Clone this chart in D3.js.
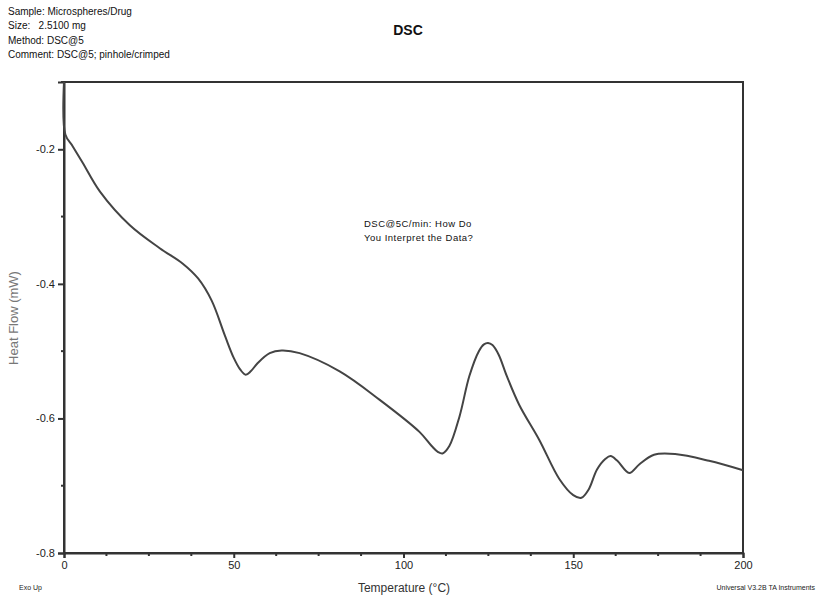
<!DOCTYPE html>
<html><head><meta charset="utf-8">
<script src="https://cdn.jsdelivr.net/npm/d3@7"></script>
<style>body{margin:0;background:#fff}svg{display:block;font-family:"Liberation Sans",Arial,sans-serif}</style>
</head><body>
<svg id="c" width="817" height="597"></svg>
<script>
const temperature = [0.0,0.4,2.5,5.5,10.6,19.4,28.2,35.0,39.5,43.5,47.4,50.0,52.0,53.5,55.0,57.0,60.6,64.1,69.4,81.2,92.9,104.7,108.3,110.2,111.5,113.5,116.5,119.4,122.2,123.7,124.9,126.2,128.0,130.5,134.1,140.0,145.9,150.0,152.4,154.5,157.0,159.5,161.0,163.0,166.5,169.5,173.8,180.0,190.0,200.0];
const heatFlow = [-0.10,-0.178,-0.195,-0.220,-0.263,-0.313,-0.347,-0.370,-0.392,-0.425,-0.477,-0.510,-0.528,-0.535,-0.530,-0.518,-0.503,-0.499,-0.503,-0.530,-0.572,-0.620,-0.641,-0.650,-0.652,-0.641,-0.597,-0.537,-0.500,-0.490,-0.488,-0.491,-0.505,-0.538,-0.580,-0.632,-0.690,-0.714,-0.718,-0.706,-0.676,-0.660,-0.656,-0.663,-0.681,-0.668,-0.654,-0.653,-0.663,-0.677];
const xTicks = [0,50,100,150,200];
const yTicks = [-0.8,-0.6,-0.4,-0.2];
const headerLines = ["Sample: Microspheres/Drug","Size:   2.5100 mg","Method: DSC@5","Comment: DSC@5; pinhole/crimped"];
const noteLines = ["DSC@5C/min: How Do","You Interpret the Data?"];

const svg = d3.select("#c");
const L=64,R=743,T=82,B=553;
const x = d3.scaleLinear().domain([0,200]).range([L,R]);
const y = d3.scaleLinear().domain([-0.8,-0.1]).range([B,T]);
const axisCol="#333";

// header
svg.append("g").selectAll("text").data(headerLines).join("text")
  .attr("x",8).attr("y",(d,i)=>15+i*14.3).attr("font-size",10).attr("fill","#111")
  .attr("xml:space","preserve").style("white-space","pre").text(d=>d);
svg.append("text").attr("x",408).attr("y",35).attr("text-anchor","middle")
  .attr("font-size",14).attr("font-weight","bold").attr("fill","#111").text("DSC");

// frame
svg.append("rect").attr("x",L).attr("y",T).attr("width",R-L).attr("height",B-T)
  .attr("fill","none").attr("stroke",axisCol).attr("stroke-width",2);

// axes
const xAxis = d3.axisBottom(x).tickValues(xTicks).tickFormat(d=>String(d)).tickSize(5).tickPadding(3);
const gx = svg.append("g").attr("transform",`translate(0,${B})`).call(xAxis);
const xMinor = d3.range(0,200.1,12.5).filter(v=>v%50!==0);
gx.selectAll(".minor").data(xMinor).join("line").attr("class","minor")
  .attr("x1",d=>x(d)).attr("x2",d=>x(d)).attr("y1",0).attr("y2",3).attr("stroke",axisCol).attr("stroke-width",2);
const yAxis = d3.axisLeft(y).tickValues(yTicks).tickFormat(d=>d.toFixed(1)).tickSize(6).tickPadding(3);
const gy = svg.append("g").attr("transform",`translate(${L},0)`).call(yAxis);
const yMinor = [-0.7,-0.5,-0.3,-0.1];
gy.selectAll(".minor").data(yMinor).join("line").attr("class","minor")
  .attr("y1",d=>y(d)).attr("y2",d=>y(d)).attr("x1",0).attr("x2",-3).attr("stroke",axisCol).attr("stroke-width",2);
[gx,gy].forEach(g=>{
  g.select(".domain").attr("stroke",axisCol).attr("stroke-width",2);
  g.selectAll(".tick line").attr("stroke",axisCol).attr("stroke-width",2);
  g.selectAll(".tick text").attr("font-size",11).attr("fill","#222").style("font-family","'Liberation Sans',Arial,sans-serif");
});

// curve
const line = d3.line().x((d,i)=>x(temperature[i])).y((d,i)=>y(heatFlow[i])).curve(d3.curveCatmullRom.alpha(0.5));
svg.append("path").datum(heatFlow).attr("d",line).attr("fill","none")
  .attr("stroke","#444").attr("stroke-width",2).attr("stroke-linejoin","round");

// note
svg.append("g").selectAll("text").data(noteLines).join("text")
  .attr("x",364).attr("y",(d,i)=>227+i*14).attr("font-size",9.5).attr("letter-spacing",0.5)
  .attr("fill","#111").text(d=>d);

// labels
svg.append("text").attr("transform","translate(18,318) rotate(-90)").attr("text-anchor","middle")
  .attr("font-size",13).attr("fill","#777").text("Heat Flow (mW)");
svg.append("text").attr("x",404).attr("y",592).attr("text-anchor","middle")
  .attr("font-size",12).attr("fill","#333").text("Temperature (°C)");
svg.append("text").attr("x",19).attr("y",590).attr("font-size",7).attr("fill","#222").text("Exo Up");
svg.append("text").attr("x",815).attr("y",590).attr("text-anchor","end").attr("font-size",7).attr("fill","#222").text("Universal V3.2B TA Instruments");
</script>
</body></html>
